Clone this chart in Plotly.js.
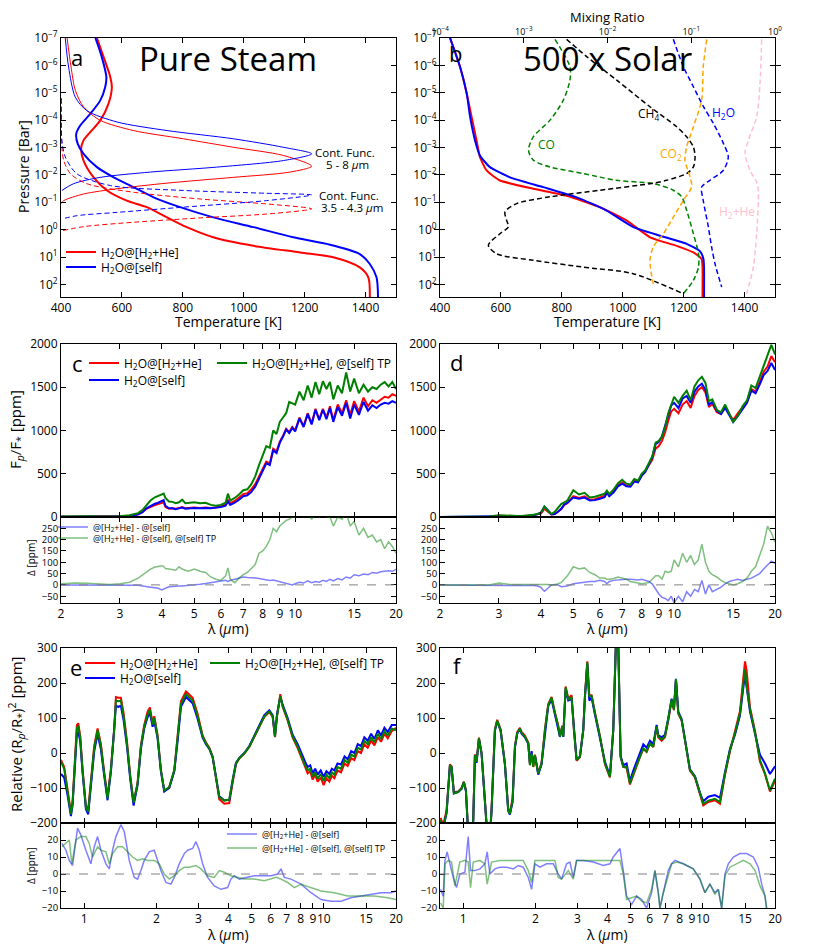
<!DOCTYPE html>
<html>
<head>
<meta charset="utf-8">
<script src="https://cdn.plot.ly/plotly-3.0.1.min.js"></script>
<style>html,body{margin:0;padding:0;background:#fff}</style>
</head>
<body>
<div id="chart" style="width:817px;height:948px"></div>
<script>
// ---- panel a: pure steam TP profiles and contribution functions ----
var aP_h2he = [1e-7,5e-7,2.7e-6,6.3e-6,2.5e-5,1.02e-4,2.75e-4,5.5e-4,1.12e-3,3.0e-3,1.23e-2,3.7e-2,8.7e-2,0.151,0.355,0.81,1.9,3.9,6.8,10.2,24,55,300];
var aT_h2he = [518,540,562,567,556,529,496,474,466,474,507,551,616,682,748,813,900,1032,1185,1294,1381,1409,1414];
var aP_self = [1e-7,5e-7,2.7e-6,6.3e-6,1.9e-5,5.9e-5,1.58e-4,3.2e-4,7.4e-4,1.7e-3,5.2e-3,1.23e-2,2.8e-2,6.6e-2,0.151,0.355,0.81,1.9,3.3,7.8,18,55,300];
var aT_self = [513,534,549,545,529,496,463,450,455,474,518,573,638,704,791,900,1032,1163,1272,1381,1414,1436,1441];

var cf58P_h2he = [1e-7,1.15e-6,8.1e-6,3.3e-5,1.02e-4,2.4e-4,4.8e-4,9.8e-4,1.95e-3,4.8e-3,7.9e-3,1.23e-2,2.0e-2,3.2e-2,5.0e-2,8.7e-2,0.112];
var cf58T_h2he = [420,433,447,474,529,638,802,966,1130,1223,1152,966,748,584,474,409,400];
var cf58P_self = [1e-7,1.15e-6,1.45e-5,4.5e-5,1.17e-4,2.4e-4,4.8e-4,9.8e-4,1.7e-3,3.0e-3,5.2e-3,7.9e-3,1.23e-2,2.1e-2,3.7e-2];
var cf58T_self = [414,425,447,485,584,748,966,1130,1223,1130,911,693,529,441,403];
var cf43P_h2he = [1.6e-5,9.8e-4,3.0e-3,9.1e-3,2.1e-2,4.3e-2,7.6e-2,0.115,0.174,0.269,0.372,0.537,0.776,1.1];
var cf43T_h2he = [401,403,409,431,485,638,857,1075,1223,1075,857,638,474,403];
var cf43P_self = [1.6e-5,5.5e-4,2.2e-3,9.1e-3,2.45e-2,3.7e-2,4.7e-2,5.4e-2,8.7e-2,0.151,0.234,0.309,0.407];
var cf43T_self = [401,403,414,452,562,802,1075,1223,1075,802,584,452,403];

// ---- panel b: 500x solar TP profiles and mixing ratios ----
var bP_h2he = [1e-7,1.15e-6,1.1e-5,7.8e-5,5.5e-4,2.2e-3,6.9e-3,1.6e-2,3.2e-2,5.8e-2,0.151,0.468,1.9,3.9,6.8,11.7,24,300];
var bT_h2he = [433,466,488,504,520,531,553,597,706,816,925,1013,1090,1177,1232,1259,1262,1262];
var bP_self = [1e-7,1.15e-6,1.1e-5,7.8e-5,5.5e-4,1.95e-3,5.2e-3,1.23e-2,2.8e-2,6.6e-2,0.2,0.81,1.66,3.3,6.2,11.7,24,300];
var bT_self = [433,466,488,499,515,531,564,630,739,849,947,1035,1122,1210,1254,1265,1267,1267];

var coP = [1.12e-7,1.12e-6,3.47e-6,1.86e-5,1e-4,4.07e-4,1.26e-3,2.88e-3,5.13e-3,8.91e-3,1.58e-2,2.09e-2,3.63e-2,6.31e-2,0.195,1.41,7.59,23.4,70.8,219];
var coX = [2.36e-3,3.56e-3,3.56e-3,2.97e-3,2.06e-3,1.30e-3,1.14e-3,1.30e-3,2.06e-3,5.14e-3,1.29e-2,3.52e-2,6.11e-2,7.69e-2,8.81e-2,0.106,0.122,0.122,0.106,8.05e-2];
var ch4P = [1.12e-7,4.79e-7,3.47e-6,3.24e-5,1.74e-4,4.07e-4,9.55e-4,2.19e-3,5.13e-3,8.91e-3,1.58e-2,2.09e-2,3.63e-2,6.31e-2,0.112,0.224,0.457,0.794,1.41,3.72,7.59,13.2,23.4,40.7,219];
var ch4X = [3.25e-3,5.64e-3,1.29e-2,3.21e-2,6.70e-2,8.81e-2,0.106,0.111,0.106,8.81e-2,5.08e-2,3.21e-2,8.13e-3,2.06e-3,8.22e-4,5.97e-4,6.25e-4,6.55e-4,5.20e-4,3.78e-4,4.75e-4,1.30e-3,5.14e-3,2.03e-2,8.05e-2];
var h2oP = [1.12e-7,1.12e-6,6.03e-6,3.24e-5,1.32e-4,7.08e-4,2.19e-3,6.76e-3,1.58e-2,2.75e-2,8.51e-2,0.794,4.27,17.4,126];
var h2oX = [6.11e-2,8.05e-2,0.106,0.140,0.184,0.242,0.277,0.242,0.167,0.133,0.139,0.160,0.175,0.192,0.231];
var co2P = [1.12e-7,1.12e-6,1.86e-5,1.74e-4,9.55e-4,2.88e-3,1.17e-2,2.75e-2,8.51e-2,0.347,1.41,4.27,13.2,95.5];
var co2X = [0.153,0.139,0.133,0.106,8.81e-2,8.41e-2,9.66e-2,0.101,8.05e-2,6.11e-2,4.65e-2,3.52e-2,3.21e-2,3.52e-2];
var h2heP = [1.12e-7,4.57e-6,7.59e-5,5.37e-4,1.66e-3,6.76e-3,1.82e-2,3.63e-2,1.41,23.4,219];
var h2heX = [0.693,0.662,0.604,0.481,0.439,0.502,0.604,0.632,0.604,0.551,0.459];

// ---- panels c, d: emission spectra (ppm) ----
var cdWl = [2.0,2.2,2.4,2.6,2.8, 3.0,3.2,3.4,3.5,3.6,3.7,3.8,3.9, 4.0,4.05,4.1,4.2,4.3,4.4,4.5,4.6,4.7,4.8,
  5.0,5.2,5.4,5.6,5.8, 6.0,6.2,6.3,6.4,6.6,6.8, 7.0,7.2,7.4,7.6,7.8, 8.0,8.2,8.4,8.6,8.8, 9.0,9.2,9.4,9.6,9.8,
  10.0,10.3,10.6,10.9,11.2,11.5,11.8, 12.1,12.4,12.7,13.0,13.4,13.8, 14.2,14.6,15.0,15.5,
  16.0,16.5,17.0,17.5,18.0,18.5,19.0,19.5,20.0];

var cH2He = [3,5,4,2,2, 3,12,30,55,95,120,135,150, 160,170,115,95,100,95,105,115,100,105,
  110,105,110,105,110, 125,145,195,160,185,225, 265,275,320,380,470, 560,640,620,790,760, 870,940,1020,980,1040,
  1000,1150,1050,1200,1080,1250,1130, 1250,1150,1280,1120,1300,1200, 1350,1180,1340,1220,
  1380,1280,1350,1320,1360,1390,1380,1420,1400];
var cSelf = [2,3,3,1,1, 2,10,30,55,100,130,150,165, 185,195,130,100,100,90,100,110,95,100,
  105,100,105,100,105, 115,130,180,140,165,200, 240,250,290,350,440, 530,620,600,770,740, 860,930,1010,970,1030,
  990,1140,1040,1190,1070,1240,1120, 1240,1130,1260,1100,1270,1170, 1320,1140,1300,1180,
  1330,1230,1290,1260,1300,1320,1310,1340,1320];
var cSelfTP = [5,12,10,5,5, 8,20,45,80,140,190,225,245, 265,270,220,180,175,160,170,200,160,165,
  170,160,165,140,130, 140,165,270,190,220,260, 310,320,380,470,600, 720,820,800,1000,960, 1100,1150,1200,1330,1310,
  1300,1450,1350,1520,1380,1560,1420, 1570,1480,1560,1360,1520,1430, 1670,1450,1600,1430,
  1530,1450,1500,1480,1530,1560,1510,1560,1480];
var cDiff = [0,0,0,0,0, 0,0,-2,-5,-8,-10,-12,-15, -22,-20,-15,-8,-6,-5,-5,-5,-4,-3,
  0,3,6,10,12, 18,20,15,20,25,30, 35,33,30,30,28, 25,22,20,22,18, 12,8,5,2,0,
  5,12,8,18,10,15,12, 20,15,25,18,28,22, 35,30,45,40,
  48,45,55,52,58,60,62,60,68];
var cDiffTP = [5,8,7,3,2, 5,12,30,45,60,70,78,82, 85,82,72,70,68,65,80,70,65,60,
  70,60,55,35,25, 20,40,75,25,10,30, 45,55,75,90,140, 150,170,200,250,235, 260,275,285,290,300,
  300,320,300,320,290,320,300, 320,300,300,260,300,290, 320,260,280,220,
  250,210,220,190,200,160,190,170,140];

var dH2He = [0,1,2,3,4, 15,10,10,10,12,15,20,30, 40,65,95,60,30,35,60,90,140,160,
  240,220,240,200,205, 225,245,285,250,300,370, 400,365,360,425,410, 490,530,600,660,790, 820,880,980,1110,1220,
  1250,1200,1300,1340,1260,1400,1470, 1500,1440,1270,1310,1210,1190, 1280,1190,1120,1200,
  1270,1330,1480,1450,1560,1680,1740,1860,1790];
var dSelf = [0,1,2,3,4, 12,8,10,10,12,15,20,30, 50,85,120,80,30,35,60,95,145,165,
  225,210,225,190,195, 210,230,280,240,285,355, 385,355,350,410,400, 475,520,605,690,840, 870,935,1050,1190,1290,
  1320,1260,1370,1400,1320,1450,1510, 1540,1470,1300,1330,1230,1190, 1260,1180,1100,1170,
  1250,1320,1460,1430,1530,1640,1690,1780,1700];
var dSelfTP = [0,1,2,3,5, 20,12,12,12,15,18,25,35, 50,80,120,70,35,60,100,150,170,190,
  310,260,280,225,235, 250,270,305,265,320,390, 430,385,375,440,420, 500,540,620,700,860, 880,930,1040,1200,1310,
  1390,1320,1400,1460,1350,1510,1580, 1620,1550,1340,1360,1240,1210, 1300,1200,1100,1170,
  1280,1350,1520,1490,1620,1750,1850,1990,1880];
var dDiff = [0,0,0,0,0, 0,0,0,0,0,0,-3,-5, -10,-20,-28,-15,0,2,0,-8,-8,-5,
  5,10,12,15,15, 20,15,5,15,20,22, 25,25,25,22,22, 25,20,15,5,-20, -40,-55,-60,-70,-50,
  -80,-50,-75,-30,-50,-20,-30, 20,-40,0,-30,-20,-10, 5,15,20,25,
  20,25,30,40,50,70,90,105,95];
var dDiffTP = [0,0,0,0,0, 8,3,2,2,2,2,2,2, 3,3,4,2,0,0,5,10,25,40,
  80,70,75,55,45, 30,30,25,25,28,35, 30,25,15,10,8, 5,8,10,25,40, 40,25,60,55,60,
  110,80,140,100,130,90,110, 180,100,60,45,35,20, 10,5,0,5,
  15,30,60,80,130,180,260,230,190];

// ---- panel e: pure steam transmission spectra (ppm) ----
var eWl = [0.80,0.825,0.852,0.88,0.894,0.914,0.932,0.944,0.962,0.984,
  1.016,1.039,1.066,1.101,1.137,1.174,1.212,1.251,1.292,1.334,
  1.356,1.386,1.422,1.459,1.507,1.556,1.607,1.67,1.724,1.78,
  1.838,1.88,1.929,1.96,2.024,2.089,2.158,2.264,2.376,2.453,
  2.533,2.658,2.745,2.834,2.972,3.119,3.221,3.326,3.434,3.546,
  3.661,3.841,4.03,4.161,4.297,4.437,4.656,4.885,5.125,5.378,
  5.642,5.92,6.112,6.252,6.373,6.58,6.73,7.062,7.409,7.774,
  8.157,8.35,8.558,8.77,8.979,9.2,9.421,9.7,9.98,10.25,
  10.54,10.8,11.06,11.4,11.79,12.2,12.57,13.0,13.41,13.85,
  14.29,14.75,15.24,15.75,16.25,16.8,17.32,17.9,18.47,19.2,20.0];
var eH2He = [-20,-40,-105,-170,-140,-15,80,85,50,-45,
  -150,-162,-75,20,70,25,-55,-125,-45,70,
  160,158,158,115,35,-65,-140,-85,22,80,
  118,130,85,105,50,-48,-108,-98,-50,40,
  148,176,168,158,112,50,30,15,-10,-72,
  -132,-145,-143,-85,-32,-16,-2,17,46,75,
  103,117,104,45,104,168,132,93,44,14,
  -25,-40,-58,-52,-76,-62,-82,-70,-92,-72,
  -82,-65,-72,-50,-55,-30,-37,-15,-20,5,
  0,25,15,35,22,45,32,55,42,62,72];
var eSelf = [-60,-70,-120,-180,-150,-30,55,60,35,-55,
  -160,-175,-85,5,55,10,-65,-135,-55,55,
  135,132,135,95,20,-75,-150,-92,12,70,
  102,115,75,92,42,-52,-110,-100,-52,33,
  132,160,150,142,98,44,25,12,-12,-65,
  -124,-135,-134,-78,-28,-14,0,20,50,80,
  108,122,108,48,110,160,138,100,52,25,
  -12,-25,-40,-35,-58,-45,-62,-50,-68,-52,
  -60,-45,-50,-30,-33,-10,-18,5,0,25,
  20,45,35,55,40,65,50,72,60,80,80];
var eSelfTP = [-25,-45,-110,-175,-145,-20,70,78,45,-50,
  -155,-168,-80,15,65,20,-60,-130,-50,65,
  150,148,150,105,28,-68,-142,-87,18,76,
  110,124,81,100,47,-49,-107,-97,-49,38,
  140,168,160,150,105,47,28,13,-11,-68,
  -126,-136,-133,-78,-30,-15,-1,18,47,76,
  105,119,105,47,105,163,134,95,47,18,
  -20,-35,-49,-45,-68,-55,-73,-60,-80,-62,
  -72,-55,-62,-40,-45,-20,-28,-5,-10,15,
  10,35,25,45,30,55,40,62,50,70,65];

var eDiffWl = [0.807,0.839,0.866,0.894,0.938,0.968,1.016,1.066,1.101,1.137,
  1.174,1.232,1.272,1.313,1.356,1.422,1.469,1.541,1.617,1.67,
  1.724,1.78,1.868,1.96,2.024,2.089,2.193,2.301,2.376,2.493,
  2.616,2.701,2.834,2.926,3.021,3.119,3.273,3.489,3.721,3.967,
  4.096,4.229,4.437,4.807,5.125,5.642,6.016,6.415,6.622,6.84,
  7.29,8.03,8.84,9.73,10.71,11.79,12.98,14.29,15.74,17.32,19.07,20.0];
var eDiff = [18,14,8,5,27,23,14,6,16,22,
  14,6,3,14,22,29,25,8,-2,-3,
  2,8,13,14,8,2,-5,-6,-2,6,
  12,14,15,19,14,6,-2,-7,-9,-8,
  -3,-1,-3,-2,-1,-1,-1,0,3,-2,
  -3,-6,-11,-15,-16,-16,-14,-13,-12,-11,-11,-10];
var eDiffTPWl = [0.807,0.839,0.866,0.888,0.923,0.968,1.016,1.049,1.083,1.137,
  1.174,1.232,1.272,1.313,1.378,1.445,1.517,1.592,1.67,1.752,
  1.838,1.96,2.056,2.158,2.264,2.376,2.493,2.616,2.745,2.926,
  3.069,3.273,3.489,3.661,3.841,4.096,4.367,4.656,5.125,5.642,
  6.332,6.622,7.062,7.53,8.03,8.84,9.73,11.06,12.57,14.29,16.25,18.47,20.0];
var eDiffTP = [16,18,20,6,20,22,22,18,10,16,
  14,13,6,12,16,16,13,10,8,9,
  8,8,6,0,-3,-1,2,4,4,5,
  3,-1,-2,2,1,-1,-2,-3,-3,-4,
  -2,-3,-5,-8,-6,-8,-10,-11,-13,-13,-13,-14,-15];

// ---- panel f: 500x solar transmission spectra (ppm) ----
var fWl = [0.804,0.825,0.852,0.880,0.894,0.914,0.953,0.984,1.006,1.026,
  1.049,1.073,1.101,1.119,1.137,1.163,1.193,1.231,1.259,1.292,
  1.313,1.356,1.386,1.432,1.492,1.541,1.566,1.607,1.644,1.68,
  1.724,1.752,1.809,1.868,1.898,1.929,1.96,1.992,2.056,2.123,
  2.193,2.264,2.338,2.414,2.492,2.532,2.59,2.615,2.675,2.744,
  2.833,2.897,2.972,3.069,3.169,3.221,3.294,3.357,3.434,3.545,
  3.72,3.903,4.095,4.228,4.339,4.436,4.537,4.655,4.806,4.963,
  5.124,5.291,5.463,5.641,5.825,6.015,6.21,6.413,6.516,6.728,
  6.947,7.173,7.406,7.575,7.721,7.896,8.153,8.418,8.834,9.27,
  9.725,10.04,10.54,11.23,11.79,12.37,12.98,13.62,14.29,14.99,
  15.23,15.73,16.51,17.31,18.17,19.06,20.0];
var fH2He = [-185,-205,-165,-33,-38,-112,-110,-100,-82,-105,
  -225,-255,-190,-4,-22,44,0,-142,-228,-238,
  -160,68,95,68,-28,-160,-170,-130,20,60,
  72,60,50,30,-33,0,-40,-5,-58,-28,
  68,140,160,116,78,48,78,48,190,155,
  165,68,-22,-12,67,165,262,165,165,116,
  48,-32,-70,67,320,310,-12,-40,-42,-90,
  -62,-38,-12,12,3,27,17,75,45,35,
  45,93,150,122,210,112,93,37,-50,-70,
  -118,-150,-140,-135,-145,-62,5,60,120,262,
  235,130,62,-25,-60,-110,-80];
var fSelf = [-195,-215,-172,-37,-40,-115,-112,-103,-84,-108,
  -232,-262,-195,-8,-28,40,-3,-148,-232,-242,
  -166,64,90,64,-32,-166,-176,-140,16,55,
  68,55,45,26,-28,5,-30,-8,-62,-32,
  62,135,152,110,74,46,74,46,182,150,
  155,64,-18,-10,65,160,255,150,158,110,
  45,-25,-65,65,320,310,-8,-35,-30,-80,
  -50,-25,0,25,15,35,25,80,50,45,
  52,98,155,128,212,118,97,40,-47,-66,
  -114,-138,-125,-120,-128,-55,12,52,108,225,
  185,118,55,-5,-30,-60,-38];
var fSelfTP = [-190,-215,-170,-35,-40,-116,-111,-102,-83,-107,
  -230,-260,-193,-6,-25,42,-1,-145,-230,-240,
  -164,66,92,66,-30,-164,-174,-136,18,57,
  70,57,47,28,-35,-1,-39,-6,-59,-30,
  66,138,158,114,76,47,76,47,187,153,
  158,66,-20,-11,66,163,259,163,163,114,
  47,-30,-68,66,320,310,-11,-39,-39,-87,
  -59,-35,-11,13,4,28,18,76,47,38,
  47,95,153,124,211,114,95,38,-49,-68,
  -116,-145,-136,-131,-140,-59,9,57,114,240,
  192,124,57,-20,-59,-107,-73];

var fDiffWl = [0.804,0.825,0.839,0.857,0.880,0.908,0.938,0.968,1.016,1.049,
  1.073,1.119,1.174,1.231,1.259,1.292,1.356,1.422,1.517,1.617,
  1.696,1.780,1.868,1.929,1.992,2.089,2.228,2.376,2.492,2.574,
  2.700,2.787,2.879,2.972,3.169,3.489,3.840,4.095,4.228,4.508,
  4.655,4.806,5.043,5.291,5.553,5.825,6.111,6.31,6.516,6.62,
  6.84,7.173,7.406,7.646,8.284,9.12,9.725,10.2,10.7,11.23,
  11.6,11.98,12.37,12.77,13.4,14.29,15.23,16.24,17.03,17.6,18.17,18.46,19.0];
var fDiff = [-9,-13,8,13,6,-2,-8,0,1,22,
  2,2,3,6,13,0,3,4,4,3,
  5,4,-2,-9,6,4,6,6,0,-3,
  6,7,-2,8,8,7,5,6,10,15,
  2,-13,-18,-13,-15,-20,-11,2,-11,-20,
  -11,2,6,8,6,3,-3,-11,-6,-11,
  -9,-20,0,6,10,12,12,10,4,-6,-13,-20,-35];
var fDiffTPWl = [0.804,0.825,0.839,0.866,0.894,0.923,0.968,1.016,1.049,1.073,
  1.101,1.174,1.231,1.259,1.313,1.422,1.617,1.780,1.868,1.929,
  1.992,2.228,2.414,2.492,2.574,2.744,2.879,2.972,3.72,4.508,
  4.655,4.806,5.043,5.291,5.553,5.825,6.111,6.31,6.516,6.62,
  6.84,7.173,7.406,7.774,8.284,9.12,9.725,10.2,10.7,11.23,
  11.6,11.98,12.37,12.98,13.84,14.75,15.73,16.51,17.31,18.17,18.46,19.0];
var fDiffTP = [-17,-20,6,8,7,-7,7,8,7,-8,
  7,8,6,-6,7,8,8,8,2,-5,
  8,8,8,-2,-3,2,-3,8,8,8,
  0,-15,-14,-13,-16,-17,-9,2,-11,-20,
  -11,0,6,7,6,3,-3,-11,-6,-12,
  -9,-20,-1,4,6,8,6,2,-7,-13,-20,-30];

// ---- tick labels and names ----
var pTicks = [1e-7,1e-6,1e-5,1e-4,1e-3,1e-2,1e-1,1,10,100];
var pTickText = ['10<sup>−7</sup>','10<sup>−6</sup>','10<sup>−5</sup>','10<sup>−4</sup>','10<sup>−3</sup>',
  '10<sup>−2</sup>','10<sup>−1</sup>','10<sup>0</sup>','10<sup>1</sup>','10<sup>2</sup>'];
var mixTicks = [1e-4,1e-3,1e-2,1e-1,1];
var mixTickText = ['10<sup>−4</sup>','10<sup>−3</sup>','10<sup>−2</sup>','10<sup>−1</sup>','10<sup>0</sup>'];
var cdTicks = [2,3,4,5,6,7,8,9,10,15,20];
var efTicks = [1,2,3,4,5,6,7,8,9,10,15,20];

var NAME_H2HE = 'H<sub>2</sub>O@[H<sub>2</sub>+He]';
var NAME_SELF = 'H<sub>2</sub>O@[self]';
var NAME_TP = 'H<sub>2</sub>O@[H<sub>2</sub>+He], @[self] TP';
var NAME_D1 = '@[H<sub>2</sub>+He] - @[self]';
var NAME_D2 = '@[H<sub>2</sub>+He] - @[self], @[self] TP';

var FONT = '"Open Sans", "DejaVu Sans", sans-serif';
var W = 817, H = 948;
function px(x) { return x / W; }
function py(y) { return 1 - y / H; }

// one line trace
function line(x, y, xa, ya, color, width, opts) {
  var t = {x: x, y: y, xaxis: xa, yaxis: ya, type: 'scatter', mode: 'lines',
    line: {color: color, width: width}, showlegend: false, hoverinfo: 'skip'};
  opts = opts || {};
  if (opts.dash) t.line.dash = opts.dash;
  if (opts.spline) { t.line.shape = 'spline'; t.line.smoothing = opts.spline; }
  if (opts.opacity) t.opacity = opts.opacity;
  if (opts.legend) { t.showlegend = true; t.legend = opts.legend; t.name = opts.name; }
  return t;
}

var RED = '#ff0000', BLUE = '#0000ff', GREEN = '#008000';
var DASH = '5px,3px';
var traces = [
  // a
  line(aT_h2he, aP_h2he, 'x', 'y', RED, 2, {spline: 0.8, legend: 'legend', name: NAME_H2HE}),
  line(aT_self, aP_self, 'x', 'y', BLUE, 2, {spline: 0.8, legend: 'legend2', name: NAME_SELF}),
  line(cf58T_h2he, cf58P_h2he, 'x', 'y', RED, 1, {spline: 0.8}),
  line(cf58T_self, cf58P_self, 'x', 'y', BLUE, 1, {spline: 0.8}),
  line(cf43T_h2he, cf43P_h2he, 'x', 'y', RED, 1, {spline: 0.8, dash: DASH}),
  line(cf43T_self, cf43P_self, 'x', 'y', BLUE, 1, {spline: 0.8, dash: DASH}),
  // b
  line(bT_h2he, bP_h2he, 'x2', 'y2', RED, 2, {spline: 0.5}),
  line(bT_self, bP_self, 'x2', 'y2', BLUE, 2, {spline: 0.5}),
  line(coX, coP, 'x3', 'y2', GREEN, 1.5, {spline: 0.8, dash: DASH}),
  line(ch4X, ch4P, 'x3', 'y2', '#000000', 1.5, {spline: 0.8, dash: DASH}),
  line(h2oX, h2oP, 'x3', 'y2', BLUE, 1.5, {spline: 0.8, dash: DASH}),
  line(co2X, co2P, 'x3', 'y2', '#ffa500', 1.5, {spline: 0.8, dash: DASH}),
  line(h2heX, h2heP, 'x3', 'y2', '#ffc0cb', 1.5, {spline: 0.8, dash: DASH}),
  // c
  line(cdWl, cH2He, 'x4', 'y4', RED, 2, {legend: 'legend3', name: NAME_H2HE}),
  line(cdWl, cSelf, 'x4', 'y4', BLUE, 2, {legend: 'legend4', name: NAME_SELF}),
  line(cdWl, cSelfTP, 'x4', 'y4', GREEN, 2, {legend: 'legend5', name: NAME_TP}),
  line(cdWl, cDiff, 'x5', 'y5', BLUE, 1.5, {opacity: 0.5, legend: 'legend6', name: NAME_D1}),
  line(cdWl, cDiffTP, 'x5', 'y5', GREEN, 1.5, {opacity: 0.5, legend: 'legend7', name: NAME_D2}),
  // d
  line(cdWl, dH2He, 'x6', 'y6', RED, 2),
  line(cdWl, dSelf, 'x6', 'y6', BLUE, 2),
  line(cdWl, dSelfTP, 'x6', 'y6', GREEN, 2),
  line(cdWl, dDiff, 'x7', 'y7', BLUE, 1.5, {opacity: 0.5}),
  line(cdWl, dDiffTP, 'x7', 'y7', GREEN, 1.5, {opacity: 0.5}),
  // e
  line(eWl, eH2He, 'x8', 'y8', RED, 2, {legend: 'legend8', name: NAME_H2HE}),
  line(eWl, eSelf, 'x8', 'y8', BLUE, 2, {legend: 'legend9', name: NAME_SELF}),
  line(eWl, eSelfTP, 'x8', 'y8', GREEN, 2, {legend: 'legend10', name: NAME_TP}),
  line(eDiffWl, eDiff, 'x9', 'y9', BLUE, 1.5, {opacity: 0.5, legend: 'legend11', name: NAME_D1}),
  line(eDiffTPWl, eDiffTP, 'x9', 'y9', GREEN, 1.5, {opacity: 0.5, legend: 'legend12', name: NAME_D2}),
  // f
  line(fWl, fH2He, 'x10', 'y10', RED, 2),
  line(fWl, fSelf, 'x10', 'y10', BLUE, 2),
  line(fWl, fSelfTP, 'x10', 'y10', GREEN, 2),
  line(fDiffWl, fDiff, 'x11', 'y11', BLUE, 1.5, {opacity: 0.5}),
  line(fDiffTPWl, fDiffTP, 'x11', 'y11', GREEN, 1.5, {opacity: 0.5})
];

// axis defaults, matplotlib-like box with inward ticks
function axis(extra) {
  var a = {showline: true, linecolor: '#000', linewidth: 1, mirror: 'allticks', ticks: 'inside',
    ticklen: 5, tickwidth: 1, tickcolor: '#000', showgrid: false, zeroline: false, tickangle: 0,
    tickfont: {family: FONT, size: 12, color: '#000'}};
  for (var k in extra) a[k] = extra[k];
  return a;
}

var colL = [px(61), px(396)], colR = [px(440), px(775)];
var rowTP = [py(297), py(38)];
var rowC = [py(517), py(344)], rowCd = [py(603), py(517)];
var rowE = [py(823), py(648)], rowEd = [py(908), py(823)];
var cdRange = [Math.log10(2), Math.log10(20)];
var efRange = [Math.log10(0.8), Math.log10(20)];
var smallTick = {family: FONT, size: 9.5, color: '#000'};
var tTicks = [400,600,800,1000,1200,1400];

var layout = {
  width: W, height: H, margin: {l: 0, r: 0, t: 0, b: 0},
  paper_bgcolor: '#fff', plot_bgcolor: 'rgba(0,0,0,0)',
  font: {family: FONT, color: '#000'},
  xaxis: axis({domain: colL, anchor: 'y', range: [400, 1500], tickvals: tTicks}),
  yaxis: axis({domain: rowTP, anchor: 'x', type: 'log', range: [2.46, -7], tickvals: pTicks, ticktext: pTickText}),
  xaxis2: axis({domain: colR, anchor: 'y2', range: [400, 1500], mirror: true, tickvals: tTicks}),
  yaxis2: axis({domain: rowTP, anchor: 'x2', type: 'log', range: [2.46, -7], tickvals: pTicks, ticktext: pTickText}),
  xaxis3: {overlaying: 'x2', side: 'top', anchor: 'y2', type: 'log', range: [-4, 0], ticks: 'inside', ticklen: 5,
    tickcolor: '#000', tickvals: mixTicks, ticktext: mixTickText, showline: false, showgrid: false, zeroline: false,
    tickangle: 0, tickfont: {family: FONT, size: 9, color: '#000'}},
  xaxis4: axis({domain: colL, anchor: 'y4', type: 'log', range: cdRange, tickvals: cdTicks, showticklabels: false}),
  yaxis4: axis({domain: rowC, anchor: 'x4', range: [0, 2000], dtick: 500}),
  xaxis5: axis({domain: colL, anchor: 'y5', type: 'log', range: cdRange, tickvals: cdTicks, ticktext: cdTicks.map(String)}),
  yaxis5: axis({domain: rowCd, anchor: 'x5', range: [-80, 300], tickvals: [-50,0,50,100,150,200,250], tickfont: smallTick}),
  xaxis6: axis({domain: colR, anchor: 'y6', type: 'log', range: cdRange, tickvals: cdTicks, showticklabels: false}),
  yaxis6: axis({domain: rowC, anchor: 'x6', range: [0, 2000], dtick: 500}),
  xaxis7: axis({domain: colR, anchor: 'y7', type: 'log', range: cdRange, tickvals: cdTicks, ticktext: cdTicks.map(String)}),
  yaxis7: axis({domain: rowCd, anchor: 'x7', range: [-80, 300], tickvals: [-50,0,50,100,150,200,250], tickfont: smallTick}),
  xaxis8: axis({domain: colL, anchor: 'y8', type: 'log', range: efRange, tickvals: efTicks, showticklabels: false}),
  yaxis8: axis({domain: rowE, anchor: 'x8', range: [-200, 300], dtick: 100}),
  xaxis9: axis({domain: colL, anchor: 'y9', type: 'log', range: efRange, tickvals: efTicks, ticktext: efTicks.map(String)}),
  yaxis9: axis({domain: rowEd, anchor: 'x9', range: [-20, 30], tickvals: [-20,-10,0,10,20], tickfont: smallTick}),
  xaxis10: axis({domain: colR, anchor: 'y10', type: 'log', range: efRange, tickvals: efTicks, showticklabels: false}),
  yaxis10: axis({domain: rowE, anchor: 'x10', range: [-200, 300], dtick: 100}),
  xaxis11: axis({domain: colR, anchor: 'y11', type: 'log', range: efRange, tickvals: efTicks, ticktext: efTicks.map(String)}),
  yaxis11: axis({domain: rowEd, anchor: 'x11', range: [-20, 30], tickvals: [-20,-10,0,10,20], tickfont: smallTick}),
  shapes: [],
  annotations: []
};

// single-entry legends, so each entry can sit where the original puts it
function leg(x, y, size) {
  return {x: px(x), y: py(y), xanchor: 'left', yanchor: 'middle', bgcolor: 'rgba(0,0,0,0)',
    borderwidth: 0, itemwidth: 30, font: {family: FONT, size: size, color: '#000'}};
}
layout.legend = leg(61, 252, 12);
layout.legend2 = leg(61, 267, 12);
layout.legend3 = leg(84, 363, 12);
layout.legend4 = leg(84, 380, 12);
layout.legend5 = leg(212, 363, 12);
layout.legend6 = leg(53, 527, 9);
layout.legend7 = leg(53, 538, 9);
layout.legend8 = leg(80, 663, 12);
layout.legend9 = leg(80, 678, 12);
layout.legend10 = leg(205, 663, 12);
layout.legend11 = leg(222, 834, 9);
layout.legend12 = leg(222, 848, 9);

// dashed zero lines in the difference panels
['5', '7', '9', '11'].forEach(function (n) {
  layout.shapes.push({type: 'line', xref: 'x' + n + ' domain', x0: 0, x1: 1, yref: 'y' + n, y0: 0, y1: 0,
    line: {color: '#808080', width: 1, dash: 'dash'}});
});

function note(text, x, y, size, color, angle) {
  layout.annotations.push({text: text, x: px(x), y: py(y), xref: 'paper', yref: 'paper', showarrow: false,
    xanchor: 'center', yanchor: 'middle', textangle: angle || 0,
    font: {family: FONT, size: size, color: color || '#000'}});
}
// axis titles
note('Temperature [K]', 228, 321, 14); note('Temperature [K]', 607, 321, 14);
note('Mixing Ratio', 607, 17, 13);
note('Pressure [Bar]', 23, 167, 14, '#000', -90);
note('F<sub><i>p</i></sub>/F<sub>*</sub> [ppm]', 16, 430, 15, '#000', -90);
note('Δ [ppm]', 31, 558, 10, '#000', -90);
note('λ (<i>μ</i>m)', 228, 628, 14); note('λ (<i>μ</i>m)', 607, 628, 14);
note('Relative (R<sub><i>p</i></sub>/R<sub>*</sub>)<sup>2</sup> [ppm]', 16, 735, 15, '#000', -90);
note('Δ [ppm]', 31, 866, 10, '#000', -90);
note('λ (<i>μ</i>m)', 228, 934, 14); note('λ (<i>μ</i>m)', 607, 934, 14);
// panel letters and titles
note('a', 77, 57, 22); note('b', 455, 53, 22);
note('c', 77, 363, 22); note('d', 456, 362, 22);
note('e', 76, 667, 22); note('f', 457, 665, 22);
note('Pure Steam', 228, 58, 33);
note('500 x Solar', 607, 58, 33);
// in-panel labels
note('Cont. Func.', 345, 152, 11.5); note('5 - 8 <i>μ</i>m', 347, 164, 11.5);
note('Cont. Func.', 349, 195, 11.5); note('3.5 - 4.3 <i>μ</i>m', 352, 207, 11.5);
note('CH<sub>4</sub>', 648, 114, 12, '#000');
note('H<sub>2</sub>O', 723, 113, 12, BLUE);
note('CO', 546, 145, 12, GREEN);
note('CO<sub>2</sub>', 671, 154, 12, '#ffa500');
note('H<sub>2</sub>+He', 737, 212, 12, '#ffc0cb');

Plotly.newPlot('chart', traces, layout, {staticPlot: true, displayModeBar: false});
</script>
</body>
</html>
